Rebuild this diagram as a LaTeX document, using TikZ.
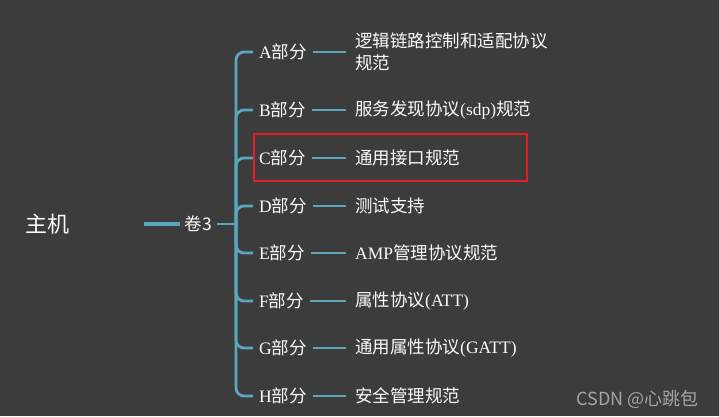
\documentclass[tikz,border=0pt]{standalone}
\usepackage{fontspec}
\setmainfont{Liberation Serif}
\newfontfamily\cjk{Noto Sans CJK SC}
\definecolor{bgcol}{RGB}{60,60,60}
\definecolor{linecol}{RGB}{90,167,189}
\definecolor{txtcol}{RGB}{250,250,250}
\definecolor{boxcol}{RGB}{225,30,35}
\definecolor{markcol}{RGB}{165,165,165}
\begin{document}
\begin{tikzpicture}[x=1pt,y=-1pt,
  branch/.style={draw=linecol, line width=2.8pt, rounded corners=8pt},
  lbl/.style={text=txtcol, font=\fontsize{17.5}{22}\selectfont, inner ysep=2pt},
  part/.style={lbl, anchor=west, inner xsep=6pt},
  leaf/.style={lbl, anchor=west, inner xsep=9pt, align=left}]
\fill[bgcol] (0,0) rectangle (719,416);
\useasboundingbox (0,0) rectangle (719,416);

\node[lbl, font=\cjk\fontsize{22}{26}\selectfont] (host) at (47,224) {主机};
\node[lbl, font=\cjk\fontsize{17.5}{20}\selectfont, inner xsep=5pt] (vol) at (198.5,224) {卷3};
\coordinate (hub) at (236,224);

\node[part] (A) at (253,52) {A{\cjk 部分}};
\node[part] (B) at (253,110) {B{\cjk 部分}};
\node[part] (C) at (253,158) {C{\cjk 部分}};
\node[part] (D) at (253,206) {D{\cjk 部分}};
\node[part] (E) at (253,253) {E{\cjk 部分}};
\node[part] (F) at (253,301) {F{\cjk 部分}};
\node[part] (G) at (253,348) {G{\cjk 部分}};
\node[part] (H) at (253,396) {H{\cjk 部分}};

\node[leaf] (La) at (346,52) {{\cjk 逻辑链路控制和适配协议}\\{\cjk 规范}};
\node[leaf] (Lb) at (346,110) {{\cjk 服务发现协议}(sdp){\cjk 规范}};
\node[leaf] (Lc) at (346,158) {{\cjk 通用接口规范}};
\node[leaf] (Ld) at (346,206) {{\cjk 测试支持}};
\node[leaf] (Le) at (346,253) {AMP{\cjk 管理协议规范}};
\node[leaf] (Lf) at (346,301) {{\cjk 属性协议}(ATT)};
\node[leaf] (Lg) at (346,348) {{\cjk 通用属性协议}(GATT)};
\node[leaf] (Lh) at (346,396) {{\cjk 安全管理规范}};

\draw[branch, line width=3.2pt, shorten <=71pt] (host) -- (vol);
\draw[branch] (vol) -- (hub);
\foreach \p in {A,B,C,D,E,F,G,H} \draw[branch] (hub) |- (\p.west);
\foreach \p/\q in {A/La,B/Lb,C/Lc,D/Ld,E/Le,F/Lf,G/Lg,H/Lh} \draw[branch] (\p) -- (\q);

\draw[boxcol, line width=1.5pt] (254,134) rectangle (527,181);

\node[text=markcol, font=\cjk\fontsize{18}{21}\selectfont, inner sep=0pt] (mark) at (637.5,399) {CSDN @心跳包};
\end{tikzpicture}
\end{document}
